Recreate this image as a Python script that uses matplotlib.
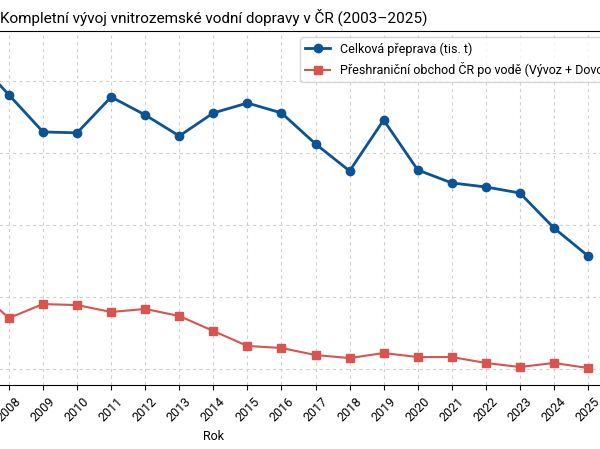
import matplotlib
matplotlib.use("Agg")
import matplotlib.pyplot as plt

years = list(range(2003, 2026))
celkem = [2300, 2450, 2600, 2550, 2660, 2403, 2146, 2140, 2389, 2264, 2118, 2278, 2347, 2278,
          2063, 1875, 2229, 1882, 1792, 1764, 1722, 1479, 1285]
obchod = [1150, 1100, 1080, 1050, 1063, 854, 951, 944, 896, 917, 868, 764, 660, 646,
          597, 576, 611, 583, 583, 542, 514, 542, 507]

plt.rcParams['font.family'] = ['Roboto', 'DejaVu Sans']
fig = plt.figure(figsize=(6, 4.49), dpi=100)
W, H = 600, 449
L, R, B, T = -198.8, 625.5, 385, 31
ax = fig.add_axes([L / W, (H - B) / H, (R - L) / W, (B - T) / H])
ax.plot(years, celkem, color='#0b5394', marker='o', markersize=6, linewidth=2,
        label='Celková přeprava (tis. t)')
ax.plot(years, obchod, color='#d9534f', marker='s', markersize=6, linewidth=1.5,
        label='Přeshraniční obchod ČR po vodě (Vývoz + Dovoz)')
ax.set_xlim(2001.9, 2026.1)
ax.set_ylim(389, 2847)
ax.set_yticks([500, 1000, 1500, 2000, 2500])
ax.set_xticks(years)
ax.set_xticklabels([str(y) for y in years], rotation=45, fontsize=9)
ax.grid(True, linestyle=(0, (3, 3)), color='#d0d0d0', linewidth=0.8)
ax.set_xlabel('Rok', fontsize=9)
ax.set_title('Kompletní vývoj vnitrozemské vodní dopravy v ČR (2003–2025)', fontsize=11)
ax.legend(loc='upper right', fontsize=9)
fig.savefig('out.png', dpi=100)
